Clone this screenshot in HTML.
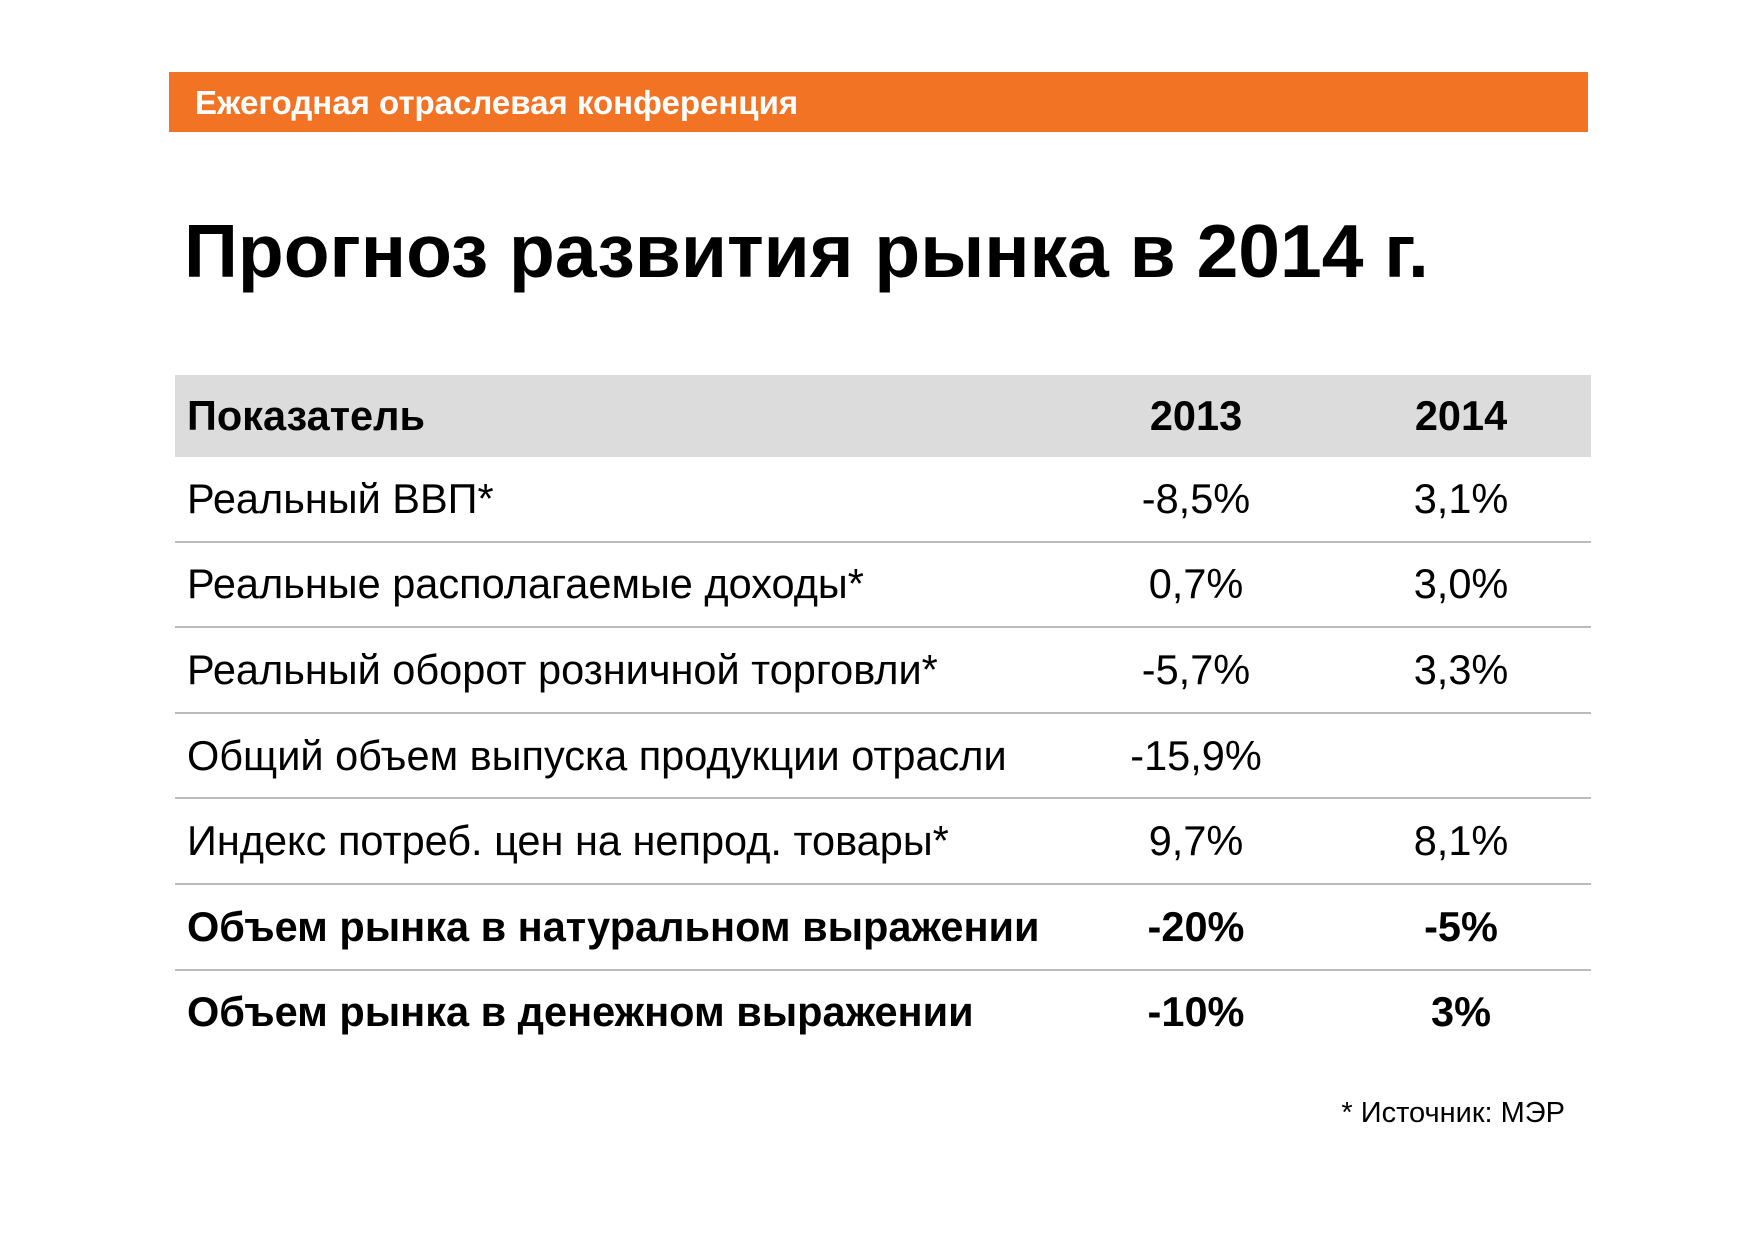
<!DOCTYPE html>
<html><head><meta charset="utf-8"><style>
body{margin:0;width:1754px;height:1240px;background:#fff;font-family:"Liberation Sans",Arial,sans-serif;position:relative;overflow:hidden}
.bar{position:absolute;left:169px;top:72px;width:1419px;height:60px;background:#f37324}
.bar span{position:absolute;left:26px;top:12px;color:#fff;font-weight:bold;font-size:33px}
h1{position:absolute;left:184px;top:208px;margin:0;font-size:75px;font-weight:bold;color:#000}
table{position:absolute;left:175px;top:375px;width:1416px;border-collapse:collapse;font-size:41.5px}
td{height:83.6px;border-bottom:2px solid #bbb;padding:0;color:#000}
td:first-child{padding-left:12px}
td.c{text-align:center}
td.d{text-align:center;padding-left:13px}
tr.h td{background:#dcdcdc;font-weight:bold;height:82px;border-bottom:none}
tr.b td{font-weight:bold}
tr:last-child td{border-bottom:none}
.fn{position:absolute;right:189px;top:1097px;font-size:29px}
</style></head><body>
<div class="bar"><span>Ежегодная отраслевая конференция</span></div>
<h1>Прогноз развития рынка в 2014 г.</h1>
<table>
<colgroup><col style="width:899px"><col style="width:244px"><col style="width:273px"></colgroup>
<tr class="h"><td>Показатель</td><td class="c">2013</td><td class="d">2014</td></tr>
<tr><td>Реальный ВВП*</td><td class="c">-8,5%</td><td class="d">3,1%</td></tr>
<tr><td>Реальные располагаемые доходы*</td><td class="c">0,7%</td><td class="d">3,0%</td></tr>
<tr><td>Реальный оборот розничной торговли*</td><td class="c">-5,7%</td><td class="d">3,3%</td></tr>
<tr><td>Общий объем выпуска продукции отрасли</td><td class="c">-15,9%</td><td class="d"></td></tr>
<tr><td>Индекс потреб. цен на непрод. товары*</td><td class="c">9,7%</td><td class="d">8,1%</td></tr>
<tr class="b"><td>Объем рынка в натуральном выражении</td><td class="c">-20%</td><td class="d">-5%</td></tr>
<tr class="b"><td>Объем рынка в денежном выражении</td><td class="c">-10%</td><td class="d">3%</td></tr>
</table>
<div class="fn">* Источник: МЭР</div>
</body></html>
